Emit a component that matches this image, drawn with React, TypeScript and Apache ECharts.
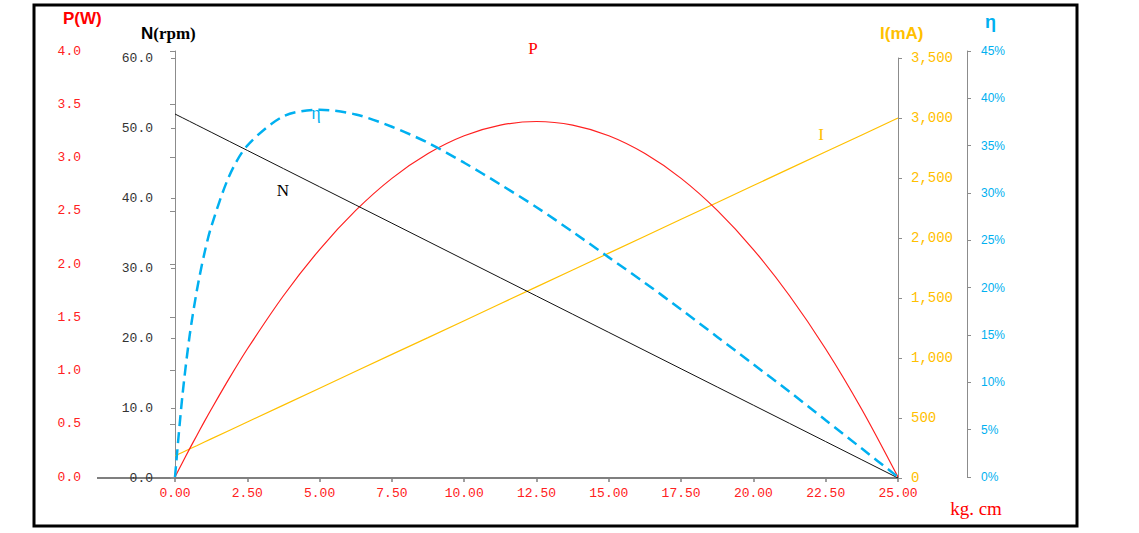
import React, { useEffect, useRef } from "react";
import * as echarts from "echarts";

const torque = [0, 0.25, 0.5, 0.75, 1, 1.25, 1.875, 2.5, 3.75, 5, 6.25, 7.5, 8.75, 10, 11.25, 12.5, 13.75, 15, 16.25, 17.5, 18.75, 20, 21.25, 22.5, 23.75, 25];
const speedN = [52, 51.48, 50.96, 50.44, 49.92, 49.4, 48.1, 46.8, 44.2, 41.6, 39, 36.4, 33.8, 31.2, 28.6, 26, 23.4, 20.8, 18.2, 15.6, 13, 10.4, 7.8, 5.2, 2.6, 0];
const currentI = [185, 213, 241, 269, 298, 326, 396, 467, 607, 748, 889, 1030, 1170, 1311, 1452, 1593, 1733, 1874, 2015, 2156, 2296, 2437, 2578, 2719, 2859, 3000];
const powerP = [0, 0.132, 0.262, 0.388, 0.513, 0.634, 0.926, 1.202, 1.702, 2.136, 2.503, 2.804, 3.037, 3.204, 3.304, 3.338, 3.304, 3.204, 3.037, 2.804, 2.503, 2.136, 1.702, 1.202, 0.634, 0];
const effEta = [0, 8.4, 14.8, 19.6, 23.4, 26.4, 31.8, 35.0, 38.1, 38.8, 38.3, 37.0, 35.3, 33.2, 30.9, 28.5, 25.9, 23.2, 20.5, 17.7, 14.8, 11.9, 9.0, 6.0, 3.0, 0];

const RED = "#FF2020";
const ORANGE = "#FFC000";
const CYAN = "#00B0F0";
const AXIS_GRAY = "#8C8C8C";
const MONO = "'Liberation Mono', 'DejaVu Sans Mono', monospace";
const SANS = "'Liberation Sans', Arial, sans-serif";
const SERIF = "'Liberation Serif', 'DejaVu Serif', serif";

const pairs = (ys: number[]) => torque.map((x, i) => [x, ys[i]]);

export default function App() {
  const ref = useRef<HTMLDivElement>(null);
  useEffect(() => {
    if (!ref.current) return;
    const chart = echarts.init(ref.current, null, { renderer: "svg" });
    const xBase = {
      type: "value" as const,
      min: 0,
      max: 25,
      interval: 2.5,
    };
    chart.setOption({
      animation: false,
      backgroundColor: "#fff",
      grid: [
        { left: 175, right: 241, top: 58, bottom: 55 },
        { left: 175, right: 241, top: 51, bottom: 56 },
      ],
      xAxis: [
        {
          ...xBase,
          gridIndex: 0,
          axisLine: { show: true, lineStyle: { color: "#7F7F7F", width: 2 } },
          axisTick: { show: true, length: 4, lineStyle: { color: "#7F7F7F", width: 1.5 } },
          axisLabel: {
            color: RED,
            fontFamily: MONO,
            fontSize: 13,
            margin: 9,
            formatter: (v: number) => v.toFixed(2),
          },
          splitLine: { show: false },
        },
        {
          ...xBase,
          gridIndex: 1,
          show: false,
          splitLine: { show: false },
        },
      ],
      yAxis: [
        {
          type: "value",
          gridIndex: 0,
          position: "left",
          min: 0,
          max: 60,
          interval: 10,
          axisLine: { show: true, lineStyle: { color: AXIS_GRAY, width: 1 } },
          axisTick: { show: true, length: 4, lineStyle: { color: AXIS_GRAY } },
          axisLabel: {
            color: "#333",
            fontFamily: MONO,
            fontSize: 13,
            margin: 22,
            formatter: (v: number) => v.toFixed(1),
          },
          splitLine: { show: false },
        },
        {
          type: "value",
          gridIndex: 0,
          position: "right",
          min: 0,
          max: 3500,
          interval: 500,
          axisLine: { show: true, lineStyle: { color: AXIS_GRAY, width: 1 } },
          axisTick: { show: true, length: 4, lineStyle: { color: AXIS_GRAY } },
          axisLabel: {
            color: ORANGE,
            fontFamily: MONO,
            fontSize: 14,
            margin: 13,
            formatter: (v: number) => v.toLocaleString("en-US"),
          },
          splitLine: { show: false },
        },
        {
          type: "value",
          gridIndex: 1,
          position: "left",
          offset: 73,
          min: 0,
          max: 4,
          interval: 0.5,
          axisLine: { show: true, lineStyle: { color: AXIS_GRAY, width: 1 } },
          axisTick: { show: true, length: 5, lineStyle: { color: AXIS_GRAY } },
          axisLabel: {
            color: RED,
            fontFamily: MONO,
            fontSize: 13,
            margin: 21,
            formatter: (v: number) => v.toFixed(1),
          },
          splitLine: { show: false },
        },
        {
          type: "value",
          gridIndex: 1,
          position: "right",
          offset: 69,
          min: 0,
          max: 45,
          interval: 5,
          axisLine: { show: true, lineStyle: { color: AXIS_GRAY, width: 1 } },
          axisTick: { show: true, length: 4, lineStyle: { color: AXIS_GRAY } },
          axisLabel: {
            color: CYAN,
            fontFamily: SANS,
            fontSize: 12,
            margin: 14,
            formatter: (v: number) => v + "%",
          },
          splitLine: { show: false },
        },
      ],
      series: [
        {
          name: "N",
          type: "line",
          xAxisIndex: 0,
          yAxisIndex: 0,
          data: pairs(speedN),
          showSymbol: false,
          lineStyle: { color: "#111", width: 1 },
          z: 3,
        },
        {
          name: "I",
          type: "line",
          xAxisIndex: 0,
          yAxisIndex: 1,
          data: pairs(currentI),
          showSymbol: false,
          lineStyle: { color: ORANGE, width: 1.2 },
          z: 2,
        },
        {
          name: "P",
          type: "line",
          xAxisIndex: 1,
          yAxisIndex: 2,
          data: pairs(powerP),
          smooth: 0.3,
          showSymbol: false,
          lineStyle: { color: RED, width: 1.2 },
          z: 2,
        },
        {
          name: "η",
          type: "line",
          xAxisIndex: 1,
          yAxisIndex: 3,
          data: pairs(effEta),
          smooth: 0.3,
          showSymbol: false,
          lineStyle: { color: CYAN, width: 2.5, type: [11, 6] },
          z: 4,
        },
      ],
      graphic: [
        {
          type: "rect",
          shape: { x: 34, y: 5, width: 1043, height: 521 },
          style: { fill: "none", stroke: "#000", lineWidth: 3 },
          silent: true,
        },
        {
          type: "line",
          shape: { x1: 97, y1: 478, x2: 175, y2: 478 },
          style: { stroke: "#7F7F7F", lineWidth: 2 },
          z: -1,
          silent: true,
        },
        {
          type: "text",
          x: 63,
          y: 18,
          style: { text: "P(W)", fill: "#FF0000", font: `bold 17px ${SANS}`, textVerticalAlign: "middle" },
        },
        {
          type: "text",
          x: 141,
          y: 33,
          style: {
            text: "{a|N}{b|(rpm)}",
            textVerticalAlign: "middle",
            rich: {
              a: { fill: "#000", fontFamily: SANS, fontWeight: "bold", fontSize: 17 },
              b: { fill: "#000", fontFamily: SERIF, fontWeight: "bold", fontSize: 17 },
            },
          },
        },
        {
          type: "text",
          x: 880,
          y: 33,
          style: { text: "I(mA)", fill: ORANGE, font: `bold 17px ${SANS}`, textVerticalAlign: "middle" },
        },
        {
          type: "text",
          x: 985,
          y: 22,
          style: { text: "η", fill: CYAN, font: `bold 18px ${SANS}`, textVerticalAlign: "middle" },
        },
        {
          type: "text",
          x: 533,
          y: 48,
          style: { text: "P", fill: "#FF0000", font: `17px ${SERIF}`, textAlign: "center", textVerticalAlign: "middle" },
        },
        {
          type: "text",
          x: 283,
          y: 190,
          style: { text: "N", fill: "#000", font: `17px ${SERIF}`, textAlign: "center", textVerticalAlign: "middle" },
        },
        {
          type: "text",
          x: 316,
          y: 113,
          style: { text: "η", fill: CYAN, font: `18px ${SERIF}`, textAlign: "center", textVerticalAlign: "middle" },
        },
        {
          type: "text",
          x: 821,
          y: 134,
          style: { text: "I", fill: ORANGE, font: `17px ${SERIF}`, textAlign: "center", textVerticalAlign: "middle" },
        },
        {
          type: "text",
          x: 976,
          y: 508,
          style: { text: "kg. cm", fill: "#FF0000", font: `19px ${SERIF}`, textAlign: "center", textVerticalAlign: "middle" },
        },
      ],
    });
    return () => chart.dispose();
  }, []);
  return (
    <div
      ref={ref}
      style={{ position: "fixed", left: 0, top: 0, width: 1139, height: 533 }}
    />
  );
}
